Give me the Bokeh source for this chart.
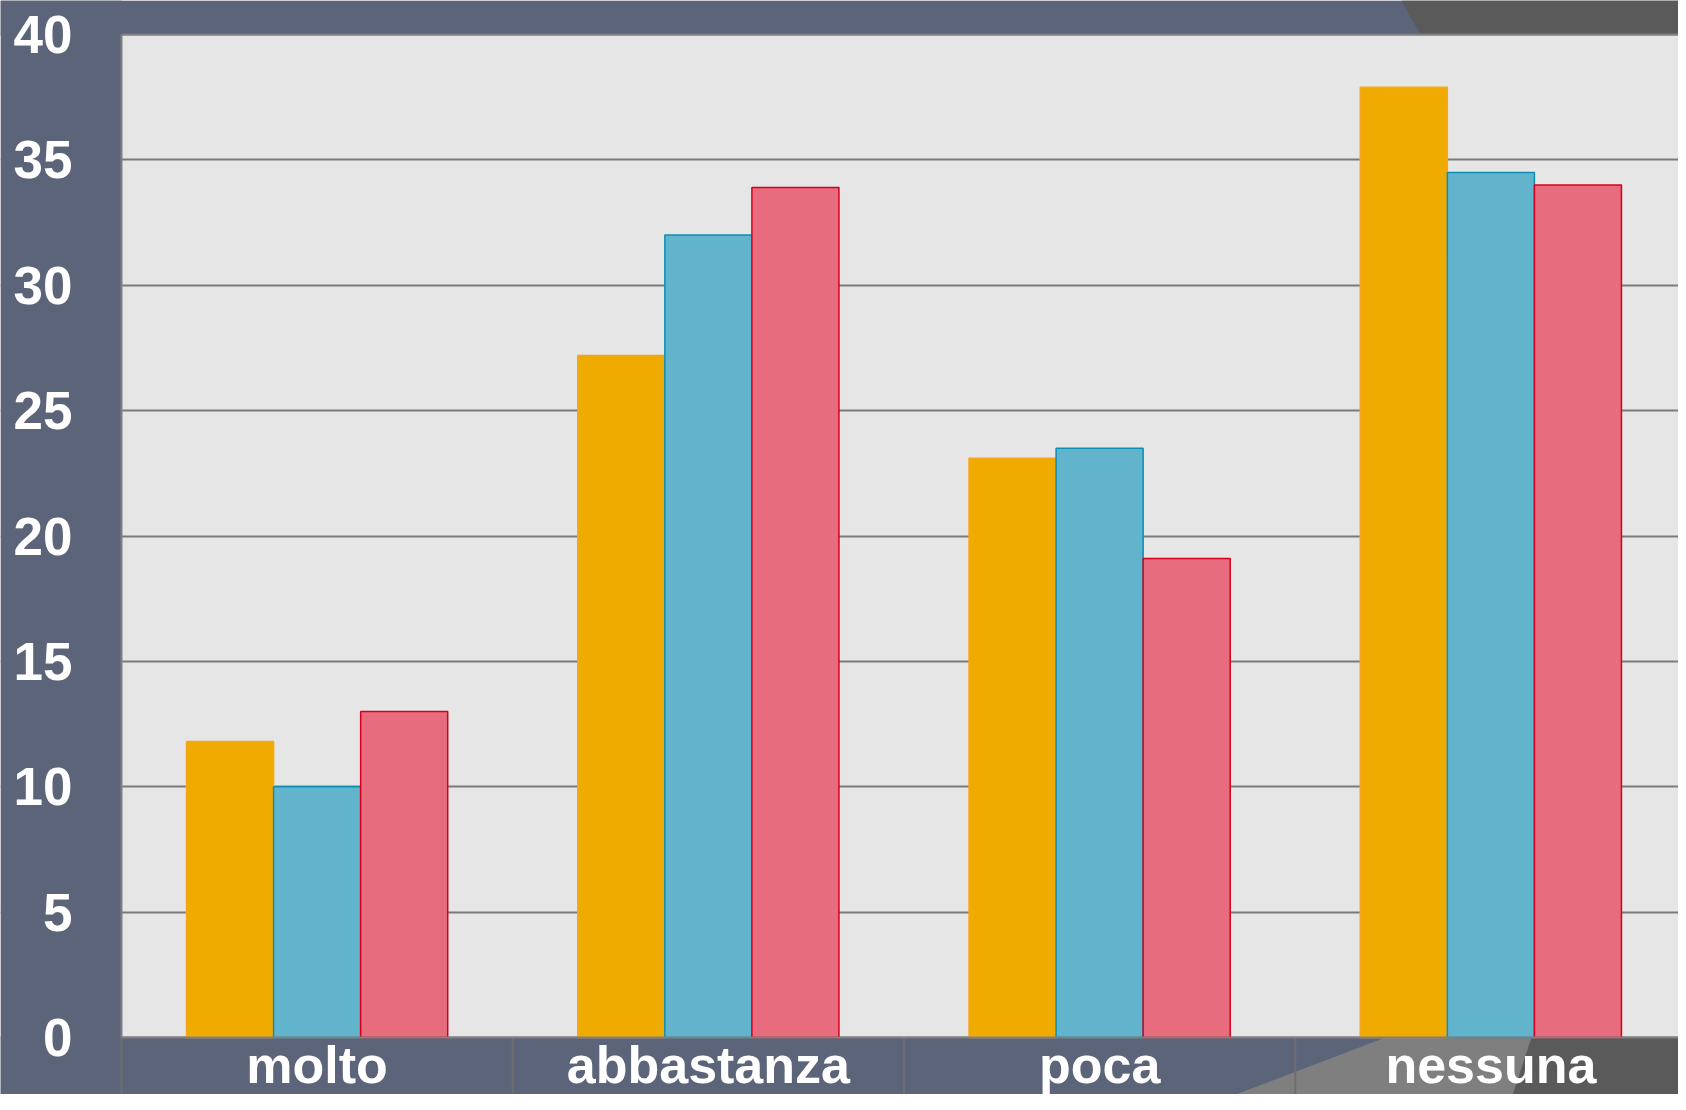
from bokeh.plotting import figure
from bokeh.models import Range1d, FixedTicker, ColumnDataSource
from bokeh.embed import file_html
from bokeh.resources import INLINE

# ---- data ----
categories = ["molto", "abbastanza", "poca", "nessuna"]
serie_1 = [11.8, 27.2, 23.1, 37.9]   # orange
serie_2 = [10.0, 32.0, 23.5, 34.5]   # blue
serie_3 = [13.0, 33.9, 19.1, 34.0]   # red
y_ticks = [0, 5, 10, 15, 20, 25, 30, 35, 40]
y_max = 40

# ---- style ----
SLATE = "#5C6479"
PLOT_BG = "#E6E6E6"
GRID = "#7A7A7A"
DARK = "#5A5A5A"
MID = "#7F7F7F"
SEP = "#6E6E6E"
FONT = "Liberation Sans"

W, H = 1678, 1094                 # canvas size
AREA_L, AREA_T, AREA_B = 121, 34, 1037   # plot-area edges on the canvas (px)
AREA_R = 1686
n = len(categories)
px_per_cat = (AREA_R - AREA_L) / n
px_per_unit = (AREA_B - AREA_T) / y_max


def xd(px):
    return (px - AREA_L) / px_per_cat


def yd(py):
    return (AREA_B - py) / px_per_unit


centers = [i + 0.5 for i in range(n)]
bw = 0.2225
src = ColumnDataSource(dict(
    xa=[c - bw for c in centers], xb=centers, xc=[c + bw for c in centers],
    a=serie_1, b=serie_2, c=serie_3))

p = figure(x_range=Range1d(xd(0), xd(W)), y_range=Range1d(yd(H), yd(0)),
           width=W, height=H, output_backend="svg", toolbar_location=None,
           min_border=0, min_border_left=0, min_border_right=0,
           min_border_top=0, min_border_bottom=0)
p.background_fill_color = PLOT_BG
p.border_fill_color = SLATE
p.outline_line_color = None

# grid (underlay, over the light background)
p.xgrid.grid_line_color = None
p.ygrid.ticker = FixedTicker(ticks=y_ticks)
p.ygrid.grid_line_color = GRID
p.ygrid.grid_line_width = 2

# slate surroundings of the plot area
xl, xr = xd(0), xd(W)
yb, yt = yd(H), yd(0)
p.quad(left=[xl], right=[0], bottom=[yb], top=[yt], fill_color=SLATE, line_color=None)
p.quad(left=[xl], right=[xr], bottom=[y_max], top=[yt], fill_color=SLATE, line_color=None)
p.quad(left=[xl], right=[xr], bottom=[yb], top=[0], fill_color=SLATE, line_color=None)

# decorative shapes
p.patch(x=[xd(1401), xd(AREA_R), xd(AREA_R), xd(1420)], y=[yd(0), yd(0), y_max, y_max],
        fill_color=DARK, line_color=None)
p.patch(x=[xd(1193), xd(1385), xd(AREA_R), xd(AREA_R)], y=[yd(1110), 0, 0, yd(1110)],
        fill_color=MID, line_color=None)
p.patch(x=[xd(1507), xd(1531), xd(AREA_R), xd(AREA_R)], y=[yd(1110), 0, 0, yd(1110)],
        fill_color=DARK, line_color=None)

# category separators below the plot area
p.segment(x0=list(range(n)), x1=list(range(n)), y0=[0] * n, y1=[yb] * n,
          line_color=SEP, line_width=2)
# top border of the plot area
p.segment(x0=[0], x1=[xr], y0=[y_max], y1=[y_max], line_color="#808080", line_width=2)

# bars
p.vbar(x="xa", top="a", width=bw, source=src,
       fill_color="#F0AB00", line_color="#F7A51A", line_width=1.5)
p.vbar(x="xb", top="b", width=bw, source=src,
       fill_color="#62B4CC", line_color="#0B8FB4", line_width=1.5)
p.vbar(x="xc", top="c", width=bw, source=src,
       fill_color="#E76C7E", line_color="#D6001C", line_width=1.5)

# axes placed on the plot-area edges
p.yaxis.ticker = FixedTicker(ticks=y_ticks)
p.xaxis.ticker = FixedTicker(ticks=centers)
p.xaxis.major_label_overrides = {c: cat for c, cat in zip(centers, categories)}
p.yaxis.fixed_location = 0
p.xaxis.fixed_location = 0
p.yaxis.bounds = (0, y_max)
p.xaxis.bounds = (0, xr)
for ax in (p.xaxis[0], p.yaxis[0]):
    ax.axis_line_color = "#808080"
    ax.axis_line_width = 2
    ax.major_tick_line_color = None
    ax.minor_tick_line_color = None
    ax.major_tick_out = 0
    ax.major_tick_in = 0
    ax.major_label_text_color = "white"
    ax.major_label_text_font = FONT
    ax.major_label_text_font_style = "bold"
    ax.major_label_text_font_size = "53px"
p.yaxis.major_label_standoff = 49
p.xaxis.major_label_standoff = -2
p.xaxis.major_label_text_font_size = "52px"

open("out.html", "w").write(file_html(p, INLINE))
